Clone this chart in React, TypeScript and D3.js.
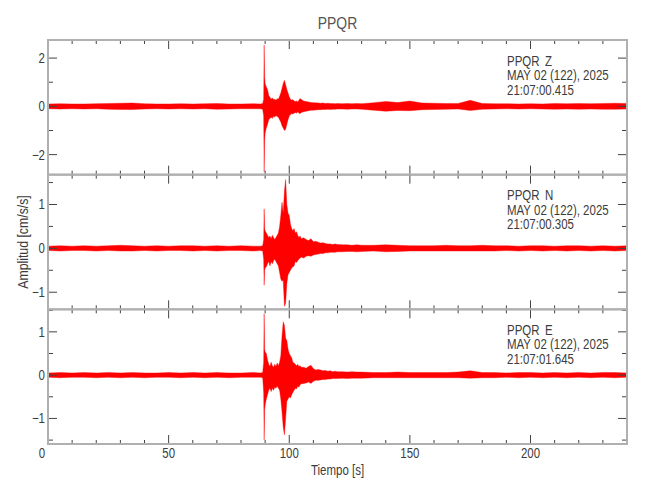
import React from 'react';
import * as d3 from 'd3';

// ---------- data (envelopes) ----------
const times = [
  0, 5, 10, 15, 20, 25, 30, 35, 40, 45, 50, 55, 60, 65, 70, 75, 80, 85,
  88, 89, 89.4, 89.6, 89.8,
  90, 90.5, 91, 91.5, 92, 92.5, 93, 93.5, 94, 94.5, 95, 95.5, 96, 96.5, 97, 97.5,
  98, 98.5, 99, 99.5, 100, 100.5, 101, 101.5, 102, 102.5, 103, 103.5, 104, 104.5, 105,
  106, 107, 108, 109, 110, 111, 112, 113, 114, 115, 116, 117, 118, 119, 120,
  122, 124, 126, 128, 130,
  135, 140, 145, 150, 155, 160, 165, 170, 175, 180, 185, 190, 195, 200, 205, 210,
  215, 220, 225, 230, 235, 240,
];

const zUpper = [
  0.10, 0.11, 0.10, 0.10, 0.11, 0.12, 0.13, 0.14, 0.11, 0.10, 0.10, 0.11, 0.10, 0.11, 0.12, 0.10, 0.10, 0.11,
  0.10, 0.12, 0.30, 2.54, 1.20,
  0.95, 0.80, 0.70, 0.45, 0.38, 0.30, 0.35, 0.28, 0.30, 0.25, 0.32, 0.30, 0.42, 0.55, 0.75, 0.95,
  1.08, 0.90, 0.70, 0.55, 0.40, 0.30, 0.25, 0.28, 0.22, 0.20, 0.22, 0.18, 0.25, 0.33, 0.28,
  0.22, 0.20, 0.18, 0.16, 0.15, 0.15, 0.14, 0.13, 0.14, 0.12, 0.13, 0.12, 0.12, 0.11, 0.12,
  0.11, 0.12, 0.11, 0.12, 0.11,
  0.15, 0.20, 0.16, 0.22, 0.14, 0.13, 0.12, 0.12, 0.25, 0.12, 0.11, 0.11, 0.10, 0.11, 0.10, 0.12,
  0.11, 0.12, 0.11, 0.12, 0.13, 0.12,
];
const zLower = [
  -0.10, -0.11, -0.10, -0.11, -0.10, -0.12, -0.13, -0.13, -0.11, -0.10, -0.11, -0.10, -0.11, -0.10, -0.12, -0.11, -0.10, -0.10,
  -0.10, -0.12, -0.40, -2.71, -1.40,
  -1.10, -0.90, -0.75, -0.55, -0.50, -0.45, -0.50, -0.40, -0.45, -0.38, -0.42, -0.45, -0.55, -0.65, -0.80, -0.90,
  -1.00, -0.95, -0.75, -0.55, -0.40, -0.35, -0.30, -0.32, -0.28, -0.25, -0.28, -0.22, -0.28, -0.30, -0.25,
  -0.22, -0.20, -0.18, -0.16, -0.16, -0.15, -0.14, -0.14, -0.13, -0.13, -0.12, -0.13, -0.12, -0.12, -0.11,
  -0.11, -0.12, -0.11, -0.11, -0.12,
  -0.16, -0.20, -0.17, -0.18, -0.14, -0.13, -0.12, -0.11, -0.17, -0.12, -0.11, -0.10, -0.11, -0.10, -0.11, -0.12,
  -0.11, -0.12, -0.11, -0.12, -0.12, -0.11,
];

const nUpper = [
  0.05, 0.06, 0.05, 0.06, 0.05, 0.06, 0.07, 0.06, 0.05, 0.06, 0.05, 0.06, 0.06, 0.05, 0.06, 0.05, 0.06, 0.05,
  0.05, 0.06, 0.20, 0.90, 0.45,
  0.40, 0.35, 0.30, 0.25, 0.28, 0.22, 0.30, 0.25, 0.20, 0.25, 0.30, 0.35, 0.50, 0.75, 1.05, 0.80,
  1.30, 1.57, 1.00, 0.80, 0.75, 0.55, 0.45, 0.40, 0.45, 0.35, 0.38, 0.30, 0.25, 0.28, 0.22,
  0.24, 0.20, 0.18, 0.22, 0.15, 0.16, 0.14, 0.12, 0.13, 0.11, 0.10, 0.10, 0.09, 0.10, 0.09,
  0.08, 0.08, 0.07, 0.08, 0.07,
  0.07, 0.08, 0.07, 0.06, 0.06, 0.06, 0.07, 0.06, 0.06, 0.07, 0.06, 0.06, 0.05, 0.06, 0.06, 0.05,
  0.06, 0.06, 0.05, 0.06, 0.05, 0.06,
];
const nLower = [
  -0.05, -0.06, -0.05, -0.05, -0.06, -0.05, -0.06, -0.06, -0.05, -0.06, -0.05, -0.05, -0.06, -0.05, -0.06, -0.05, -0.05, -0.06,
  -0.05, -0.06, -0.25, -0.84, -0.50,
  -0.45, -0.42, -0.35, -0.30, -0.40, -0.30, -0.35, -0.28, -0.25, -0.30, -0.35, -0.40, -0.55, -0.70, -0.75, -0.72,
  -1.32, -1.25, -0.80, -0.60, -0.55, -0.50, -0.45, -0.42, -0.40, -0.30, -0.32, -0.28, -0.25, -0.22, -0.20,
  -0.22, -0.18, -0.17, -0.18, -0.15, -0.14, -0.13, -0.12, -0.12, -0.10, -0.10, -0.09, -0.09, -0.09, -0.08,
  -0.08, -0.07, -0.07, -0.08, -0.07,
  -0.06, -0.08, -0.07, -0.06, -0.06, -0.06, -0.06, -0.06, -0.06, -0.06, -0.06, -0.05, -0.06, -0.05, -0.06, -0.05,
  -0.06, -0.05, -0.06, -0.05, -0.06, -0.05,
];

const eUpper = [
  0.05, 0.06, 0.05, 0.06, 0.05, 0.06, 0.05, 0.06, 0.05, 0.05, 0.06, 0.05, 0.06, 0.05, 0.06, 0.05, 0.05, 0.06,
  0.05, 0.06, 0.30, 1.42, 0.60,
  0.54, 0.50, 0.35, 0.25, 0.20, 0.30, 0.22, 0.18, 0.25, 0.20, 0.28, 0.22, 0.30, 0.45, 0.90, 1.23,
  1.15, 0.85, 0.80, 0.60, 0.50, 0.45, 0.40, 0.30, 0.28, 0.25, 0.22, 0.25, 0.20, 0.22, 0.18,
  0.18, 0.16, 0.20, 0.23, 0.15, 0.12, 0.13, 0.12, 0.10, 0.11, 0.09, 0.10, 0.08, 0.09, 0.08,
  0.08, 0.07, 0.08, 0.07, 0.07,
  0.06, 0.06, 0.07, 0.06, 0.06, 0.06, 0.06, 0.07, 0.10, 0.06, 0.06, 0.05, 0.06, 0.06, 0.05, 0.06,
  0.05, 0.06, 0.05, 0.06, 0.06, 0.05,
];
const eLower = [
  -0.05, -0.06, -0.05, -0.05, -0.06, -0.05, -0.06, -0.05, -0.06, -0.05, -0.05, -0.06, -0.05, -0.06, -0.05, -0.06, -0.05, -0.05,
  -0.05, -0.06, -0.40, -1.50, -0.80,
  -0.69, -0.55, -0.45, -0.35, -0.30, -0.38, -0.30, -0.35, -0.28, -0.30, -0.25, -0.30, -0.35, -0.55, -0.85, -1.20,
  -1.38, -1.00, -0.60, -0.55, -0.50, -0.53, -0.45, -0.40, -0.35, -0.30, -0.32, -0.25, -0.28, -0.22, -0.20,
  -0.19, -0.18, -0.16, -0.19, -0.14, -0.12, -0.12, -0.11, -0.10, -0.10, -0.09, -0.09, -0.08, -0.08, -0.08,
  -0.07, -0.08, -0.07, -0.07, -0.07,
  -0.06, -0.06, -0.06, -0.06, -0.06, -0.06, -0.06, -0.06, -0.07, -0.06, -0.06, -0.05, -0.06, -0.05, -0.06, -0.05,
  -0.06, -0.05, -0.06, -0.05, -0.06, -0.05,
];

const station = 'PPQR';
const channels = ['Z', 'N', 'E'];
const dateLabel = 'MAY 02 (122), 2025';
const startTimes = ['21:07:00.415', '21:07:00.305', '21:07:01.645'];
const uppers = [zUpper, nUpper, eUpper];
const lowers = [zLower, nLower, eLower];
const yDomains: [number, number][] = [[-2.83, 2.75], [-1.39, 1.68], [-1.59, 1.52]];
const yMajorTicks = [[-2, 0, 2], [-1, 0, 1], [-1, 0, 1]];
const yMinorStep = [1, 0.5, 0.5];
const xDomain: [number, number] = [0, 240];
const xMajorTicks = [0, 50, 100, 150, 200];
const xLabel = 'Tiempo [s]';
const yLabel = 'Amplitud [cm/s/s]';

// ---------- layout ----------
const W = 650, H = 500;
const left = 48, right = 627, top = 40, bottom = 444;
const panelH = (bottom - top) / 3;
const FONT = "'Liberation Sans', Arial, sans-serif";
const SQ = 0.82; // horizontal condensing of the narrow plot font
const TXT = '#3c3c3c';
const FRAME = '#b0b0b0';
const TICK = '#444';

function fmt(v: number) {
  return v < 0 ? '\u2212' + Math.abs(v) : String(v);
}

function NText(props: { x: number; y: number; size: number; anchor?: string; fill?: string; rotate?: number; children: any }) {
  const { x, y, size, anchor = 'start', fill = TXT, rotate = 0, children } = props;
  return (
    <text transform={`translate(${x},${y}) rotate(${rotate}) scale(${SQ},1)`} textAnchor={anchor}
      fontSize={size} fill={fill}>{children}</text>
  );
}

export default function App() {
  const x = d3.scaleLinear().domain(xDomain).range([left, right]);
  const xMinor = d3.range(0, 241, 10);

  return (
    <svg width={W} height={H} style={{ position: 'absolute', left: 0, top: 0, background: '#fff' }}
      fontFamily={FONT}>
      <rect x={0} y={0} width={W} height={H} fill="#fff" />
      <NText x={(left + right) / 2} y={29} anchor="middle" size={17} fill="#555">{station}</NText>
      {channels.map((ch, p) => {
        const pt = top + p * panelH;
        const pb = pt + panelH;
        const y = d3.scaleLinear().domain(yDomains[p]).range([pb, pt]);
        const up = uppers[p], lo = lowers[p];
        const n = Math.min(times.length, up.length, lo.length);
        const idx = d3.range(n);
        const area = d3.area<number>()
          .x((i) => x(times[i]))
          .y0((i) => y(lo[i]))
          .y1((i) => y(up[i]));
        const [d0, d1] = yDomains[p];
        const minors = d3.range(Math.ceil(d0 / yMinorStep[p]) * yMinorStep[p], d1 + 1e-9, yMinorStep[p])
          .filter((v) => !yMajorTicks[p].some((m) => Math.abs(m - v) < 1e-9));
        const clipId = `clip${p}`;
        return (
          <g key={ch}>
            <defs>
              <clipPath id={clipId}>
                <rect x={left} y={pt} width={right - left} height={panelH} />
              </clipPath>
            </defs>
            <g clipPath={`url(#${clipId})`}>
              <path d={area(idx) || ''} fill="#ff0000" stroke="#ff0000" strokeWidth={0.4} strokeLinejoin="round" />
            </g>
            {xMinor.map((t) => {
              const major = xMajorTicks.includes(t);
              const len = major ? 9 : 4;
              return (
                <g key={'xt' + t} stroke={TICK} strokeWidth={1}>
                  <line x1={x(t)} x2={x(t)} y1={pt} y2={pt + len} />
                  <line x1={x(t)} x2={x(t)} y1={pb} y2={pb - len} />
                </g>
              );
            })}
            {yMajorTicks[p].map((v) => (
              <g key={'ym' + v} stroke={TICK} strokeWidth={1}>
                <line x1={left} x2={left + 9} y1={y(v)} y2={y(v)} />
                <line x1={right} x2={right - 9} y1={y(v)} y2={y(v)} />
              </g>
            ))}
            {minors.map((v) => (
              <g key={'yn' + v} stroke={TICK} strokeWidth={1}>
                <line x1={left} x2={left + 5} y1={y(v)} y2={y(v)} />
                <line x1={right} x2={right - 5} y1={y(v)} y2={y(v)} />
              </g>
            ))}
            {yMajorTicks[p].map((v) => (
              <NText key={'yl' + v} x={left - 3} y={y(v) + 5} anchor="end" size={14}>{fmt(v)}</NText>
            ))}
            <rect x={left} y={pt} width={right - left} height={panelH} fill="none" stroke={FRAME} strokeWidth={2} />
            <NText x={507} y={pt + 25.5} size={14}>{station}</NText>
            <NText x={545} y={pt + 25.5} size={14}>{ch}</NText>
            <NText x={507} y={pt + 40} size={14}>{dateLabel}</NText>
            <NText x={507} y={pt + 54.5} size={14}>{startTimes[p]}</NText>
          </g>
        );
      })}
      {xMajorTicks.map((t) => (
        <NText key={'xl' + t} x={x(t) - (t === 0 ? 6 : 0)} y={458} anchor="middle" size={14}>{t}</NText>
      ))}
      <NText x={(left + right) / 2} y={475} anchor="middle" size={14}>{xLabel}</NText>
      <NText x={28} y={(top + bottom) / 2} rotate={-90} anchor="middle" size={15}>{yLabel}</NText>
    </svg>
  );
}
